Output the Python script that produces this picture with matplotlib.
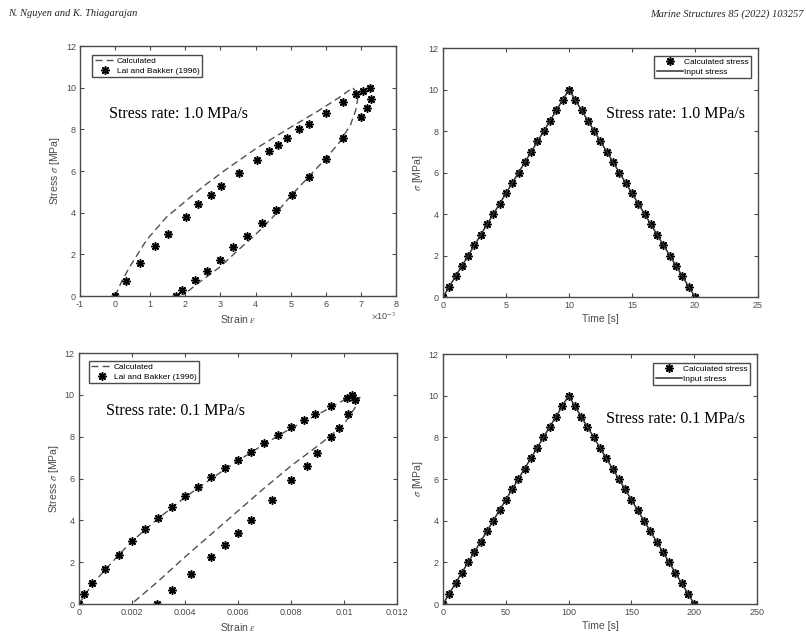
import matplotlib
matplotlib.use("Agg")
import matplotlib.pyplot as plt

# ---- data ----
# top-left, stress rate 1.0 MPa/s (strain values in 1e-3)
exp1_strain = [0, 0.30, 0.71, 1.14, 1.50, 2.02, 2.37, 2.72, 3.02, 3.54, 4.05, 4.39,
               4.64, 4.90, 5.25, 5.53, 6.00, 6.50, 6.86, 7.07, 7.26, 7.28, 7.17,
               7.00, 6.50, 6.00, 5.52, 5.03, 4.58, 4.19, 3.75, 3.35, 3.00, 2.61,
               2.28, 1.91, 1.73]
exp1_stress = [0, 0.72, 1.60, 2.40, 3.00, 3.80, 4.40, 4.83, 5.26, 5.92, 6.51, 6.98,
               7.26, 7.58, 8.02, 8.25, 8.80, 9.30, 9.68, 9.84, 9.97, 9.44, 9.01,
               8.58, 7.57, 6.60, 5.70, 4.83, 4.11, 3.52, 2.86, 2.33, 1.75, 1.21,
               0.76, 0.29, 0]
calc1_strain = [0, 0.20, 0.45, 0.90, 1.47, 2.04, 2.50, 3.18, 4.03, 5.00, 5.80, 6.40,
                6.77, 6.93, 6.85, 6.70, 6.40, 6.00, 5.50, 5.00, 4.50, 4.00, 3.50,
                2.99, 2.42, 1.94]
calc1_stress = [0, 0.75, 1.50, 2.70, 3.80, 4.60, 5.25, 6.10, 7.10, 8.10, 8.90, 9.55,
                10.0, 9.65, 8.90, 8.20, 7.40, 6.60, 5.70, 4.80, 3.80, 2.95, 2.20,
                1.40, 0.69, 0.05]
strain1_ticks = [-1, 0, 1, 2, 3, 4, 5, 6, 7, 8]

# bottom-left, stress rate 0.1 MPa/s
exp2_strain = [0, 0.0002, 0.0005, 0.0010, 0.0015, 0.0020, 0.0025, 0.0030, 0.0035,
               0.0040, 0.0045, 0.0050, 0.0055, 0.0060, 0.0065, 0.0070, 0.0075,
               0.0080, 0.0085, 0.0089, 0.0095, 0.0101, 0.0103, 0.0104, 0.01015,
               0.0098, 0.0095, 0.0090, 0.0086, 0.0080, 0.0073, 0.0065, 0.0060,
               0.0055, 0.0050, 0.00423, 0.00352, 0.00295]
exp2_stress = [0, 0.48, 1.00, 1.67, 2.34, 3.03, 3.60, 4.11, 4.62, 5.15, 5.61, 6.09,
               6.49, 6.88, 7.28, 7.70, 8.08, 8.45, 8.81, 9.10, 9.45, 9.83, 9.98,
               9.77, 9.10, 8.40, 7.98, 7.20, 6.58, 5.94, 4.99, 4.03, 3.39, 2.80,
               2.26, 1.42, 0.67, 0]
calc2_strain = [0, 0.0005, 0.0010, 0.0015, 0.0020, 0.0030, 0.0040, 0.0050, 0.0060,
                0.0070, 0.0080, 0.0090, 0.0095, 0.0100, 0.0103, 0.0105, 0.0106,
                0.01048, 0.01023, 0.0100, 0.0095, 0.0090, 0.0080, 0.0070, 0.0060,
                0.0050, 0.0040, 0.0030, 0.00198]
calc2_stress = [0, 0.95, 1.65, 2.35, 3.00, 4.10, 5.10, 6.00, 6.85, 7.65, 8.40, 9.05,
                9.40, 9.75, 9.93, 10.02, 9.88, 9.51, 9.03, 8.60, 8.05, 7.55, 6.60,
                5.55, 4.45, 3.35, 2.25, 1.10, 0]
strain2_ticks = [0, 0.002, 0.004, 0.006, 0.008, 0.01, 0.012]

# right column: stress history
time1 = [0, 0.5, 1, 1.5, 2, 2.5, 3, 3.5, 4, 4.5, 5, 5.5, 6, 6.5, 7, 7.5, 8, 8.5,
         9, 9.5, 10, 10.5, 11, 11.5, 12, 12.5, 13, 13.5, 14, 14.5, 15, 15.5, 16,
         16.5, 17, 17.5, 18, 18.5, 19, 19.5, 20]
time2 = [0, 5, 10, 15, 20, 25, 30, 35, 40, 45, 50, 55, 60, 65, 70, 75, 80, 85,
         90, 95, 100, 105, 110, 115, 120, 125, 130, 135, 140, 145, 150, 155, 160,
         165, 170, 175, 180, 185, 190, 195, 200]
stress_hist = [0, 0.5, 1, 1.5, 2, 2.5, 3, 3.5, 4, 4.5, 5, 5.5, 6, 6.5, 7, 7.5, 8,
               8.5, 9, 9.5, 10, 9.5, 9, 8.5, 8, 7.5, 7, 6.5, 6, 5.5, 5, 4.5, 4,
               3.5, 3, 2.5, 2, 1.5, 1, 0.5, 0]
input1_t = [0, 10, 20]
input2_t = [0, 100, 200]
input_s = [0, 10, 0]

plt.rcParams['font.family'] = ['Liberation Sans', 'DejaVu Sans']
plt.rcParams['mathtext.fontset'] = 'stix'
plt.rcParams['axes.unicode_minus'] = False
AX = '#4a4a4a'
MK = dict(marker=(8, 2, 0), ms=6, mew=1.1, color='black', ls='none')

fig = plt.figure(figsize=(8.06, 6.34), dpi=100)
ax_tl = fig.add_axes([0.0993, 0.5331, 0.392, 0.3943])
ax_tr = fig.add_axes([0.5496, 0.5315, 0.3908, 0.3927])
ax_bl = fig.add_axes([0.0980, 0.0473, 0.3945, 0.3959])
ax_br = fig.add_axes([0.5496, 0.0473, 0.3896, 0.3943])


def style(ax):
    for s in ax.spines.values():
        s.set_color(AX)
        s.set_linewidth(1.0)
    ax.tick_params(direction='in', length=3, width=0.8, colors=AX,
                   labelsize=6.5, top=True, right=True, pad=3)
    ax.set_ylim(0, 12)
    ax.set_yticks([0, 2, 4, 6, 8, 10, 12])


def add_legend(ax, loc, anchor, hl):
    ax.legend(loc=loc, bbox_to_anchor=anchor, borderaxespad=0, fontsize=6,
              fancybox=False, edgecolor=AX, framealpha=1, handlelength=hl,
              handletextpad=0.1, borderpad=0.3, labelspacing=0.2)


# top-left
ax = ax_tl
ax.plot(calc1_strain, calc1_stress, ls=(0, (5, 3)), color='#505050', lw=1.0,
        label='Calculated')
ax.plot(exp1_strain, exp1_stress, label='Lai and Bakker (1996)', **MK)
ax.set_xlim(-1, 8)
ax.set_xticks(strain1_ticks)
ax.set_xticklabels([str(v) for v in strain1_ticks])
style(ax)
ax.text(1.0, -0.078, '$\\times$10$^{-3}$', transform=ax.transAxes, ha='right',
        va='center', fontsize=6.5, color=AX)
ax.set_xlabel('Strain $\\epsilon$', fontsize=7.5, color=AX, labelpad=3)
ax.set_ylabel('Stress $\\sigma$ [MPa]', fontsize=7.5, color=AX, labelpad=3)
ax.text(0.092, 0.73, 'Stress rate: 1.0 MPa/s', transform=ax.transAxes,
        fontsize=11.5, family='Liberation Serif', va='center')
add_legend(ax, 'upper left', (0.038, 0.964), 2.6)

# top-right
ax = ax_tr
ax.plot(time1, stress_hist, label='Calculated stress', **MK)
ax.plot(input1_t, input_s, color='#303030', lw=1.1, label='Input stress')
ax.set_xlim(0, 25)
ax.set_xticks([0, 5, 10, 15, 20, 25])
style(ax)
ax.set_xlabel('Time [s]', fontsize=7.5, color=AX, labelpad=3)
ax.set_ylabel('$\\sigma$ [MPa]', fontsize=7.5, color=AX, labelpad=3)
ax.text(0.517, 0.735, 'Stress rate: 1.0 MPa/s', transform=ax.transAxes,
        fontsize=11.5, family='Liberation Serif', va='center')
add_legend(ax, 'upper right', (0.978, 0.968), 3.2)

# bottom-left
ax = ax_bl
ax.plot(calc2_strain, calc2_stress, ls=(0, (5, 3)), color='#505050', lw=1.0,
        label='Calculated')
ax.plot(exp2_strain, exp2_stress, label='Lai and Bakker (1996)', **MK)
ax.set_xlim(0, 0.012)
ax.set_xticks(strain2_ticks)
ax.set_xticklabels(['0', '0.002', '0.004', '0.006', '0.008', '0.01', '0.012'])
style(ax)
ax.set_xlabel('Strain $\\epsilon$', fontsize=7.5, color=AX, labelpad=3)
ax.set_ylabel('Stress $\\sigma$ [MPa]', fontsize=7.5, color=AX, labelpad=3)
ax.text(0.085, 0.769, 'Stress rate: 0.1 MPa/s', transform=ax.transAxes,
        fontsize=11.5, family='Liberation Serif', va='center')
add_legend(ax, 'upper left', (0.031, 0.968), 2.6)

# bottom-right
ax = ax_br
ax.plot(time2, stress_hist, label='Calculated stress', **MK)
ax.plot(input2_t, input_s, color='#303030', lw=1.1, label='Input stress')
ax.set_xlim(0, 250)
ax.set_xticks([0, 50, 100, 150, 200, 250])
style(ax)
ax.set_xlabel('Time [s]', fontsize=7.5, color=AX, labelpad=3)
ax.set_ylabel('$\\sigma$ [MPa]', fontsize=7.5, color=AX, labelpad=3)
ax.text(0.519, 0.74, 'Stress rate: 0.1 MPa/s', transform=ax.transAxes,
        fontsize=11.5, family='Liberation Serif', va='center')
add_legend(ax, 'upper right', (0.978, 0.964), 3.2)

# page header
fig.text(0.010, 0.978, 'N. Nguyen and K. Thiagarajan', fontsize=7.5,
         family='Liberation Serif', style='italic', va='center', color='#222222')
fig.text(0.997, 0.978, 'Marine Structures 85 (2022) 103257', fontsize=7.5,
         family='Liberation Serif', style='italic', va='center', ha='right',
         color='#222222')

fig.savefig('out.png', dpi=100)
